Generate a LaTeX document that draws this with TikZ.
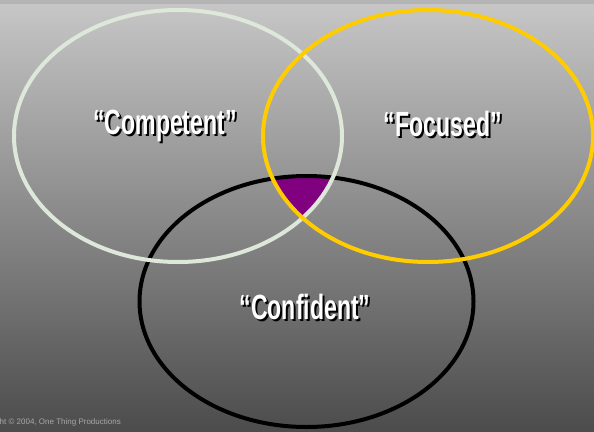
\documentclass[tikz,border=0pt]{standalone}
\usepackage{fontspec}
\setmainfont{Liberation Sans}
\newfontfamily\tagfont{Liberation Sans}[FakeStretch=0.66]
\definecolor{bgtop}{HTML}{C6C6C6}
\definecolor{bgbot}{HTML}{4C4C4C}
\definecolor{strip}{HTML}{B4B4B4}
\definecolor{sage}{HTML}{DDE8DB}
\definecolor{gold}{HTML}{FFCC00}
\definecolor{plum}{HTML}{800080}
\definecolor{notegray}{HTML}{A8A8A8}
\newcommand{\dropshadow}[1]{\makebox[0pt][l]{\hspace{2pt}\raisebox{-2pt}{\color{black}#1}}#1}
\begin{document}
\begin{tikzpicture}[x=1pt,y=-1pt]
\tikzstyle{every node}+=[inner sep=0pt]
\tikzstyle{tag}=[font=\tagfont\bfseries\fontsize{35}{35}\selectfont, text=white, anchor=base]
\tikzstyle{ring}=[line width=4pt]
\useasboundingbox (0,0) rectangle (594,431);
\shade [top color=bgtop, bottom color=bgbot] (0,4) rectangle (594,431);
\fill [strip] (0,0) rectangle (594,4);
\begin{scope}
\clip (178,136) ellipse (164 and 126);
\clip (428,136) ellipse (165 and 126);
\fill [plum] (306.5,301.5) ellipse (167 and 125.5);
\end{scope}
\draw [black, ring] (306.5,301.5) ellipse (167 and 125.5);
\draw [sage, ring] (178,136) ellipse (164 and 126);
\draw [gold, ring] (428,136) ellipse (165 and 126);
\node [tag] (competent) at (165,134) {\dropshadow{“Competent”}};
\node [tag] (focused) at (443,136) {\dropshadow{“Focused”}};
\node [tag] (confident) at (305,319) {\dropshadow{“Confident”}};
\node [text=notegray, font=\fontsize{8}{8}\selectfont, anchor=base east] (credit) at (121,424) {Copyright © 2004, One Thing Productions};
\end{tikzpicture}
\end{document}
